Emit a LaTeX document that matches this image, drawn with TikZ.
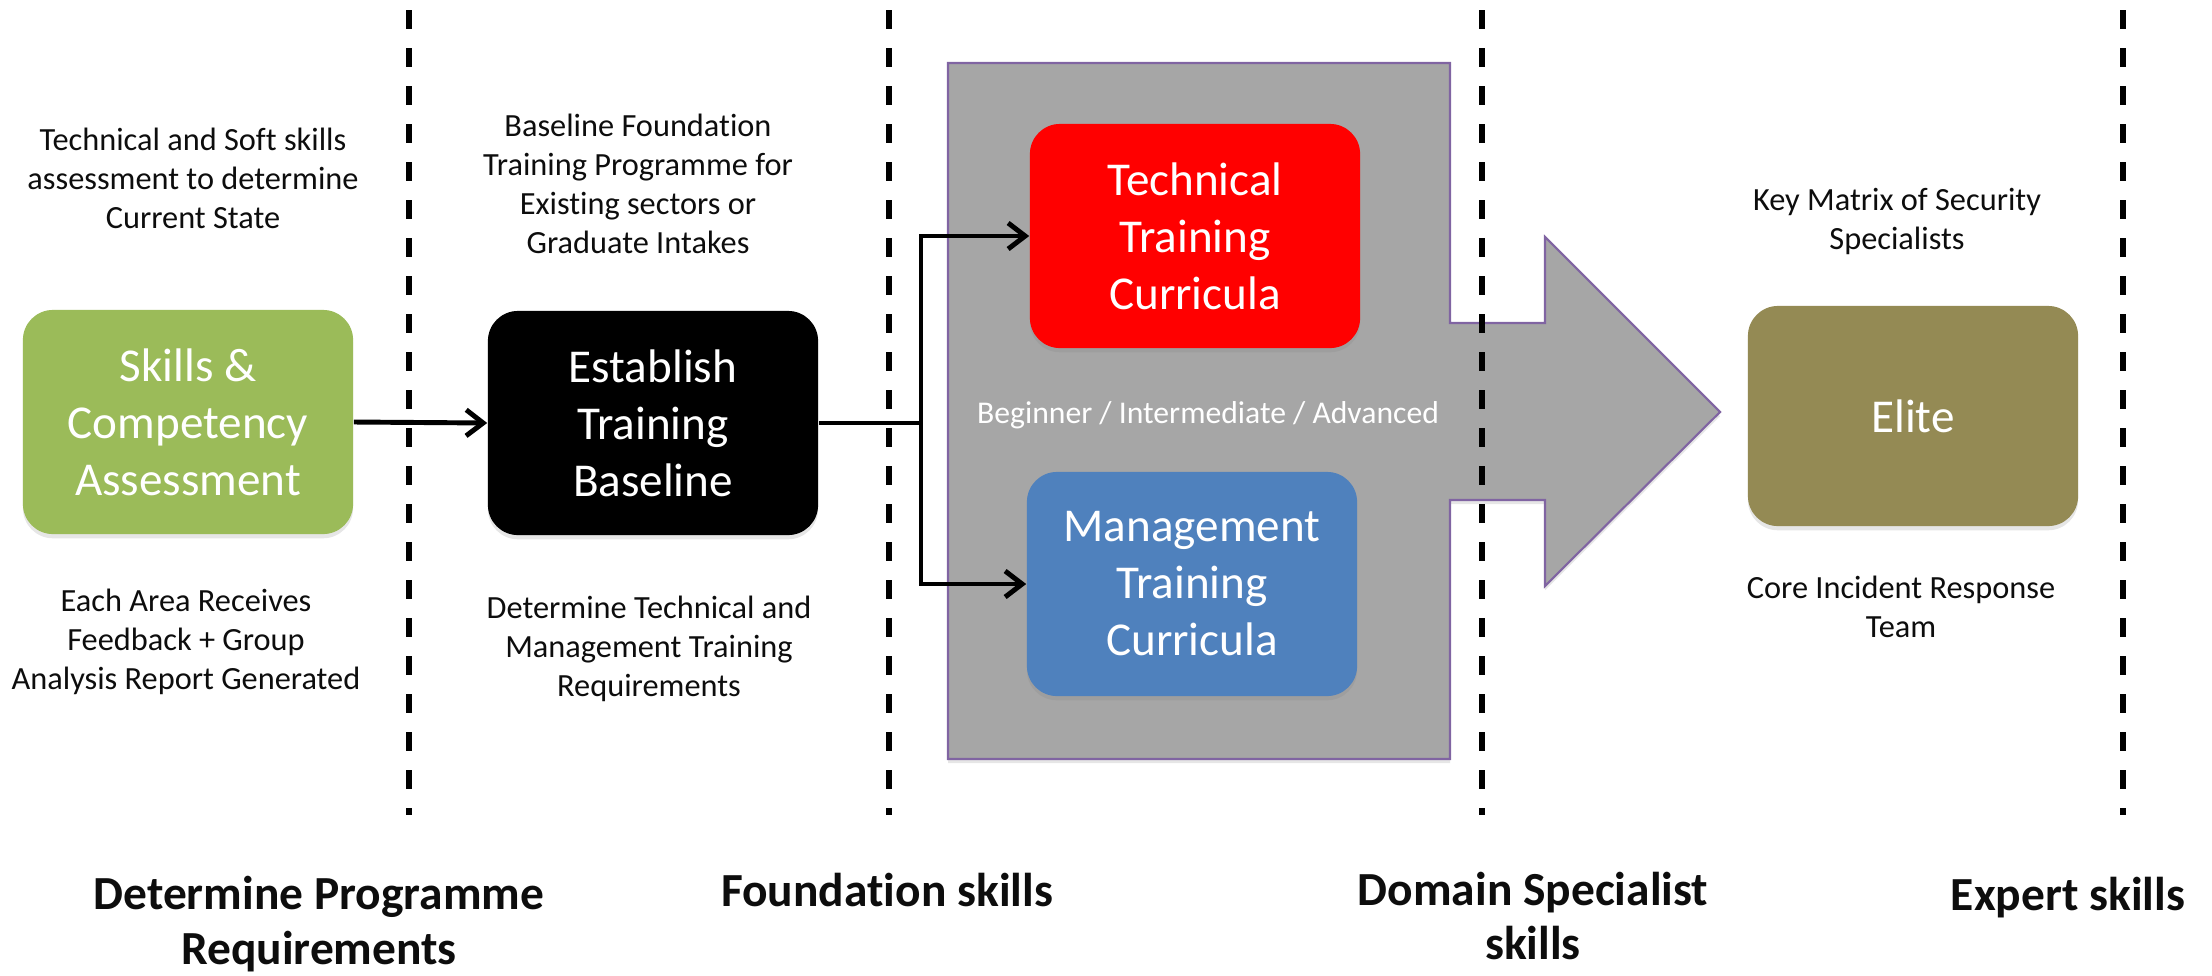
\documentclass[tikz,border=0pt]{standalone}
\usepackage{fontspec}
\setmainfont{Carlito}[Ligatures=CommonOff]
\usetikzlibrary{arrows.meta,shadows}
\definecolor{skillgreen}{HTML}{9BBB59}
\definecolor{techred}{HTML}{FF0000}
\definecolor{mgmtblue}{HTML}{4F81BD}
\definecolor{eliteolive}{HTML}{948A54}
\definecolor{panelgrey}{HTML}{A6A6A6}
\definecolor{panelpurple}{HTML}{8064A2}
\definecolor{labelink}{HTML}{0D0D0D}
\begin{document}
\begin{tikzpicture}[x=0.01cm,y=-0.01cm,
  box/.style={rounded corners=0.3cm, minimum width=3.3cm, minimum height=2.24cm, inner sep=0pt,
    align=center, text=white, font=\fontsize{13.4}{16.2}\selectfont,
    drop shadow={shadow xshift=0pt, shadow yshift=-1.2pt, opacity=0.2}},
  note/.style={align=center, text=labelink, font=\fontsize{9.2}{11.1}\selectfont},
  stage/.style={align=center, text=labelink, font=\fontsize{13.5}{15.6}\selectfont\bfseries},
  divider/.style={line width=1.6pt, dash pattern=on 0.19cm off 0.19cm},
  flow/.style={line width=1.4pt, -{Straight Barb[length=0.17cm,width=0.26cm]}},
]
\useasboundingbox (0,0) rectangle (2212,975);
%
% grey block arrow behind the curricula
\draw[fill=panelgrey, draw=panelpurple, line width=0.6pt,
  drop shadow={shadow xshift=0pt, shadow yshift=-1.2pt, opacity=0.2}]
  (948,63) -- (1450,63) -- (1450,323) -- (1545,323) -- (1545,237) -- (1720,412)
  -- (1545,586) -- (1545,500) -- (1450,500) -- (1450,759) -- (948,759) -- cycle;
%
% dashed stage dividers
\foreach \x in {409,889,1482,2123}
  \draw[divider] (\x,10) -- (\x,815);
%
% boxes
\node[box, fill=skillgreen] (skills) at (188,422) {Skills \&\\Competency\\Assessment};
\node[box, fill=black] (baseline) at (653,423) {Establish\\Training\\Baseline};
\node[box, fill=techred] (technical) at (1195,236) {Technical\\Training\\Curricula};
\node[box, fill=mgmtblue] (management) at (1192,584) {Management\\Training\\Curricula};
\node[box, fill=eliteolive, minimum height=2.2cm] (elite) at (1913,416) {Elite};
%
% notes above and below
\node[note] (assessnote) at (193,178) {Technical and Soft skills\\assessment to determine\\Current State};
\node[note] (feedbacknote) at (186,642) {Each Area Receives\\Feedback + Group\\Analysis Report Generated};
\node[note] (foundnote) at (638,184) {Baseline Foundation\\Training Programme for\\Existing sectors or\\Graduate Intakes};
\node[note] (reqnote) at (649,649) {Determine Technical and\\Management Training\\Requirements};
\node[note] (keynote) at (1897,221) {Key Matrix of Security\\Specialists};
\node[note] (corenote) at (1901,607) {Core Incident Response\\Team};
\node[note, text=white, font=\fontsize{9}{11}\selectfont] (levels) at (1208,415) {Beginner / Intermediate / Advanced};
%
% stage names
\node[stage] (stageone) at (319,924) {Determine Programme\\Requirements};
\node[stage] (stagetwo) at (887,890) {Foundation skills};
\node[stage] (stagethree) at (1533,916) {Domain Specialist\\skills};
\node[stage] (stagefour) at (2068,898) {Expert skills};
%
% connectors
\coordinate (split) at (921,423);
\draw[flow] (skills.east) -- (baseline.west);
\draw[line width=1.4pt] (baseline.east) -- (split);
\draw[flow] (split) |- (technical.west);
\draw[flow] (split) |- (management.west);
%
\end{tikzpicture}
\end{document}
